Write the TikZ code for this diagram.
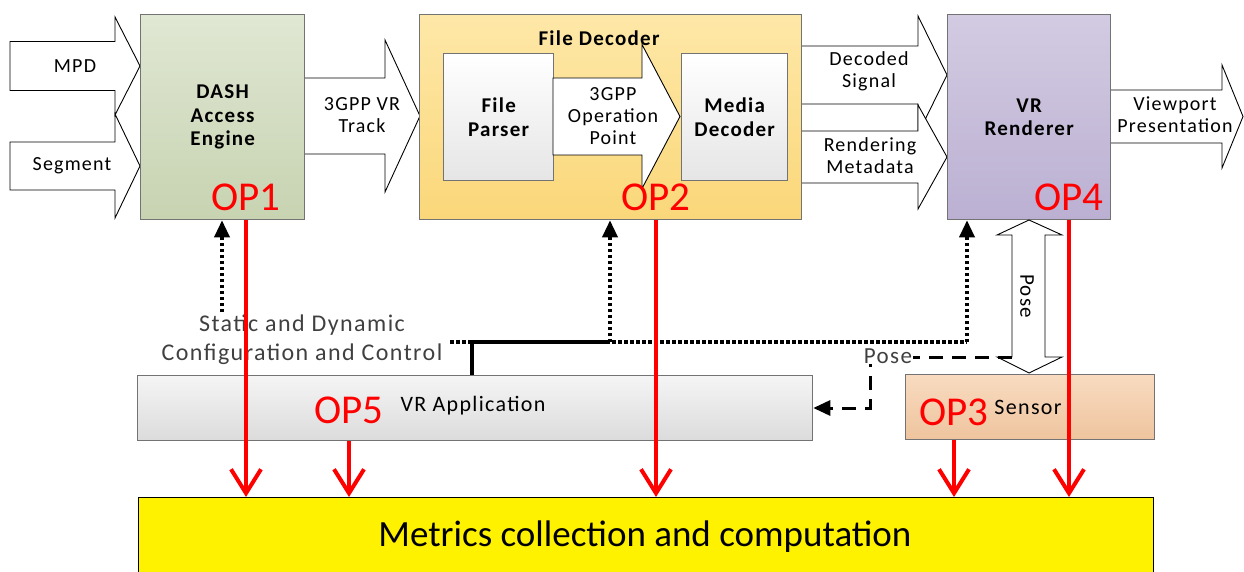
\documentclass[tikz,border=0pt]{standalone}
\usepackage{fontspec}
\setmainfont{Carlito}
\newfontfamily\widefont{Carlito}[LetterSpace=6]
\usetikzlibrary{arrows.meta}
\definecolor{dashtop}{HTML}{E0E7D3}
\definecolor{dashbot}{HTML}{C7D3B1}
\definecolor{fdectop}{HTML}{FEE8A8}
\definecolor{fdecbot}{HTML}{FAD779}
\definecolor{rendtop}{HTML}{D3CBE2}
\definecolor{rendbot}{HTML}{BBB0D2}
\definecolor{sensortop}{HTML}{F8DBC0}
\definecolor{sensorbot}{HTML}{EFC49E}
% block arrow pointing right: tail x, head base x, tip x, centre y, half body, half head
\newcommand{\rblkarrow}[6]{%
  \draw[blkarrow] (#1,#4-#5) -- (#2,#4-#5) -- (#2,#4-#6) -- (#3,#4)
    -- (#2,#4+#6) -- (#2,#4+#5) -- (#1,#4+#5) -- cycle;}

\begin{document}
\begin{tikzpicture}[x=1pt, y=-1pt,
  box/.style={draw=black!55, line width=1.3pt, anchor=north west, align=center,
    font=\widefont\fontsize{21}{23.5}\selectfont\bfseries},
  blkarrow/.style={draw=black, line width=0.9pt, fill=white},
  lbl/.style={align=center, font=\widefont\fontsize{20}{22}\selectfont},
  oplbl/.style={text=red, inner sep=0pt, font=\fontsize{41}{43}\selectfont},
  opline/.style={red, line width=4pt, -{Straight Barb[length=24pt,width=30pt,line width=4pt]}},
  ctrl/.style={line width=3.5pt, dash pattern=on 3.5pt off 2.5pt},
  ctrltip/.style={-{Triangle[length=17pt,width=15pt]}},
  posedash/.style={line width=3pt, dash pattern=on 14pt off 9pt}]

\useasboundingbox (0,0) rectangle (1244,572);

% input and output block arrows
\rblkarrow{10}{115}{140}{66}{24.5}{49}
\rblkarrow{10}{115}{140}{166}{24}{52}
\rblkarrow{304}{385}{420}{116}{38}{76}
\rblkarrow{801}{918}{947}{75}{29}{59}
\rblkarrow{801}{918}{947}{157}{26}{52}
\rblkarrow{1110}{1222}{1243}{116.5}{26.5}{51.5}

% main blocks
\node[box, top color=dashtop, bottom color=dashbot, minimum width=164pt, minimum height=205pt] (dash) at (140,14) {DASH\\Access\\Engine};
\node[box, top color=fdectop, bottom color=fdecbot, minimum width=382pt, minimum height=205pt] (fdec) at (419,14) {};
\node[font=\widefont\fontsize{21}{24}\selectfont\bfseries] (fdeclbl) at (599,38) {File Decoder};
\node[box, top color=white, bottom color=black!10, minimum width=110pt, minimum height=127pt] (parser) at (443,53) {File\\Parser};
\rblkarrow{553}{642}{680}{116.5}{38.5}{72}
\node[box, top color=white, bottom color=black!10, minimum width=106pt, minimum height=127pt] (mdec) at (681,53) {Media\\Decoder};
\node[box, top color=rendtop, bottom color=rendbot, minimum width=163pt, minimum height=205pt] (rend) at (947,14) {VR\\Renderer};

\node[box, top color=black!4, bottom color=black!14, minimum width=675pt, minimum height=65pt] (app) at (137,375) {};
\node[font=\widefont\fontsize{22}{24}\selectfont] (applbl) at (473,406) {VR Application};
\node[box, top color=sensortop, bottom color=sensorbot, minimum width=249pt, minimum height=65pt] (sensor) at (905,374) {};
\node[font=\widefont\fontsize{22}{24}\selectfont] (sensorlbl) at (1028,407) {Sensor};

\node[box, fill=yellow, draw=black, line width=1pt, minimum width=1015pt, minimum height=90pt] (metrics) at (138,497) {};
\node[font=\fontsize{37}{40}\selectfont] (metricslbl) at (645,537) {Metrics collection and computation};

% arrow labels
\node[lbl] (mpd) at (75,66) {MPD};
\node[lbl] (seg) at (72,166) {Segment};
\node[lbl] (track) at (362,115) {3GPP VR\\Track};
\node[lbl] (oppt) at (613,116) {3GPP\\Operation\\Point};
\node[lbl] (decsig) at (869,71) {Decoded\\Signal};
\node[lbl] (rmeta) at (870,156) {Rendering\\Metadata};
\node[lbl] (vport) at (1175,115) {Viewport\\Presentation};

% pose arrow between renderer and sensor
\draw[blkarrow] (1012,235) -- (997,235) -- (1029,220) -- (1062,235) -- (1045,235)
  -- (1045,357) -- (1062,357) -- (1029,373) -- (997,357) -- (1012,357) -- cycle;
\node[lbl, rotate=-90, font=\widefont\fontsize{21}{24}\selectfont] (poselbl) at (1027,296) {Pose};

% configuration and control
\coordinate (ctlL) at (450,342);
\coordinate (tap) at (472,342);
\coordinate (jn) at (610,342);
\coordinate (jr) at (967,342);
\coordinate (dctl) at (222,312);
\draw[ctrl] (ctlL) -- (jr);
\draw[ctrl, ctrltip] (jr) -- (jr |- rend.south);
\draw[ctrl, ctrltip] (jn) -- (jn |- fdec.south);
\draw[ctrl, ctrltip] (dctl) -- (dctl |- dash.south);
\draw[line width=3.5pt] (tap |- app.north) -- (tap) -- (jn);
\node[lbl, text=black!75, font=\widefont\fontsize{24}{29}\selectfont] (cfg) at (302,340) {Static and Dynamic\\Configuration and Control};

% pose to application
\coordinate (pl) at (1012,357);
\coordinate (pc) at (870,357);
\coordinate (pd) at (870,408);
\draw[posedash, ctrltip] (pl) -- (pc) -- (pd) -- (pd -| app.east);
\node[fill=white, inner sep=1pt, text=black!75, font=\widefont\fontsize{23}{24}\selectfont] (pose2) at (888,356) {Pose};

% operation points
\node[oplbl] (op1) at (246,197) {OP1};
\node[oplbl] (op2) at (656,197) {OP2};
\node[oplbl] (op4) at (1069,197) {OP4};
\node[oplbl] (op5) at (349,410) {OP5};
\node[oplbl] (op3) at (954,412) {OP3};

\draw[opline] (op1 |- dash.south) -- (op1 |- metrics.north);
\draw[opline] (op2 |- fdec.south) -- (op2 |- metrics.north);
\draw[opline] (op4 |- rend.south) -- (op4 |- metrics.north);
\draw[opline] (op5 |- app.south) -- (op5 |- metrics.north);
\draw[opline] (op3 |- sensor.south) -- (op3 |- metrics.north);

\end{tikzpicture}
\end{document}
